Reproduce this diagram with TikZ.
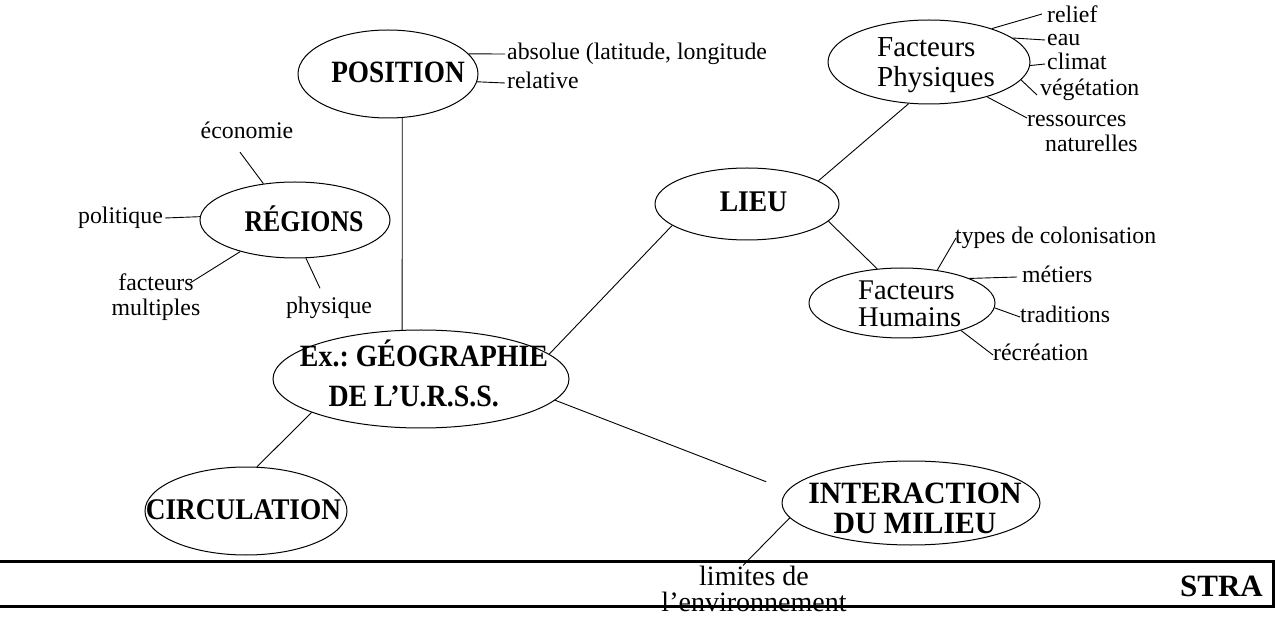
\documentclass[tikz,border=0pt]{standalone}
\usepackage{fontspec}
\usepackage{graphicx}
\setmainfont{Liberation Serif}
\usetikzlibrary{shapes.geometric}
\frenchspacing
% narrowed bold title, one or more centred lines
\newcommand{\narrowtitle}[2]{\scalebox{#1}[1]{\begin{tabular}{@{}c@{}}#2\end{tabular}}}
\begin{document}
\begin{tikzpicture}[x=1pt,y=-1pt,
  bub/.style={ellipse, draw, line width=1pt, inner sep=0pt},
  link/.style={line width=0.9pt},
  lbl/.style={font=\fontsize{23.8}{25}\selectfont, inner sep=0pt, text height=16pt, text depth=5pt},
  lbltwo/.style={font=\fontsize{23.8}{25}\selectfont, inner sep=0pt, align=center},
  fact/.style={font=\fontsize{29}{30}\selectfont, inner sep=0pt, align=left},
  ttl/.style={inner sep=0pt},
  band/.style={draw, line width=3pt, inner sep=0pt},
]
\useasboundingbox (0,0) rectangle (1280,617);

% ellipses
\node[bub, minimum width=180pt, minimum height=88pt] (pos)  at (388,74)  {};
\node[bub, minimum width=190pt, minimum height=76pt] (reg)  at (295,220) {};
\node[bub, minimum width=202pt, minimum height=84pt] (fp)   at (929,62)  {};
\node[bub, minimum width=184pt, minimum height=72pt] (lieu) at (747,204) {};
\node[bub, minimum width=186pt, minimum height=70pt] (fh)   at (902,303) {};
\node[bub, minimum width=296pt, minimum height=98pt] (ctr)  at (421,379) {};
\node[bub, minimum width=202pt, minimum height=88pt] (circ) at (246,511) {};
\node[bub, minimum width=258pt, minimum height=84pt] (int)  at (911,503) {};

% titles inside the ellipses
\node[ttl, font=\bfseries\fontsize{31}{31}\selectfont, anchor=base] (posT) at (398,83)
  {\scalebox{0.88}[1]{POSITION}};
\node[ttl, font=\bfseries\fontsize{30}{30}\selectfont, anchor=base] (regT) at (304,231.5)
  {\scalebox{0.86}[1]{RÉGIONS}};
\node[ttl, font=\bfseries\fontsize{30}{30}\selectfont, anchor=base] (lieuT) at (753.5,211.5)
  {\scalebox{0.92}[1]{LIEU}};
\node[ttl, font=\bfseries\fontsize{31}{40}\selectfont] (ctrT) at (424,379)
  {\narrowtitle{0.9}{Ex.: GÉOGRAPHIE\\DE L’U.R.S.S.\hspace*{23pt}}};
\node[ttl, font=\bfseries\fontsize{30}{30}\selectfont, anchor=base] (circT) at (243.5,519)
  {\scalebox{0.91}[1]{CIRCULATION}};
\node[ttl, font=\bfseries\fontsize{31}{30}\selectfont] (intT) at (915,512)
  {\narrowtitle{0.96}{INTERACTION\\DU MILIEU}};
\node[fact, anchor=west] (fpT) at (877,65.5) {Facteurs\\Physiques};
\node[fact, font=\fontsize{28.5}{27}\selectfont, anchor=west] (fhT) at (858,303.5) {Facteurs\\Humains};

% labels
\node[lbl, anchor=west] (absT) at (507,54) {absolue (latitude, longitude};
\node[lbl, anchor=west] (relT) at (507,83) {relative};
\node[lbl] (ecoT) at (247,133) {économie};
\node[lbl, anchor=east] (polT) at (163,218) {politique};
\node[lbltwo] (factT) at (156,297) {facteurs\\multiples};
\node[lbl] (physT) at (329,308) {physique};
\node[lbl, anchor=west] (relfT) at (1047,17) {relief};
\node[lbl, anchor=west] (eauT) at (1047,40) {eau};
\node[lbl, anchor=west] (cliT) at (1047,64) {climat};
\node[lbl, anchor=west] (vegT) at (1040,90) {végétation};
\node[lbl, anchor=west] (ressT) at (1027,121) {ressources};
\node[lbl, anchor=west] (natT) at (1045,146) {naturelles};
\node[lbl, anchor=west] (typT) at (955,238) {types de colonisation};
\node[lbl, anchor=west] (metT) at (1022,277) {métiers};
\node[lbl, anchor=west] (traT) at (1020,317) {traditions};
\node[lbl, anchor=west] (recT) at (993,355) {récréation};

% bottom band
\node[inner sep=0pt, align=center, font=\fontsize{28}{26}\selectfont] (limT) at (754,588.5) {limites de\\l’environnement};
\node[band, minimum width=1290pt, minimum height=44.5pt] (strip) at (628,583.75) {};
\node[ttl, font=\bfseries\fontsize{31}{31}\selectfont, anchor=base] (straT) at (1221.5,596.5) {STRA};

% connectors between the main ellipses
\draw[link] (ctr.111.3) -- (pos.-72.1);
\draw[link] (ctr.11.6) -- (lieu.196.3);
\draw[link, shorten >=23pt] (ctr.-9) -- (int.174.7);
\draw[link] (ctr.197) -- (circ.76);
\draw[link] (lieu.18) -- (fp.-116.6);
\draw[link] (lieu.-12.5) -- (fh.126.6);
\draw[link] (int.187) -- ([xshift=-11pt]limT.north);

% position
\draw[link] (pos.14.9) -- ([xshift=-2pt]absT.west);
\draw[link] (pos.-5.8) -- ([xshift=-2pt]relT.west);

% regions
\draw[link] (reg.131) -- ([xshift=-7pt,yshift=-8.5pt]ecoT.south);
\draw[link] (reg.178) -- ([xshift=2pt]polT.east);
\draw[link] (reg.210) -- ([xshift=34pt,yshift=14pt]factT.center);
\draw[link] (reg.-74) -- ([xshift=-9pt,yshift=9pt]physT.north);

% physical factors
\draw[link] (fp.28) -- ([xshift=-5pt,yshift=3pt]relfT.west);
\draw[link] (fp.16) -- ([xshift=-2pt]eauT.west);
\draw[link] (fp.-2) -- ([xshift=-2pt]cliT.west);
\draw[link] (fp.-11) -- ([xshift=-3pt,yshift=-5pt]vegT.west);
\draw[link] (fp.-31) -- ([yshift=3pt]ressT.west);

% human factors
\draw[link] (fh.43) -- ([xshift=1pt]typT.west);
\draw[link] (fh.20) -- ([xshift=-5pt]metT.west);
\draw[link] (fh.-3) -- (traT.west);
\draw[link] (fh.-25) -- (recT.west);
\end{tikzpicture}
\end{document}
